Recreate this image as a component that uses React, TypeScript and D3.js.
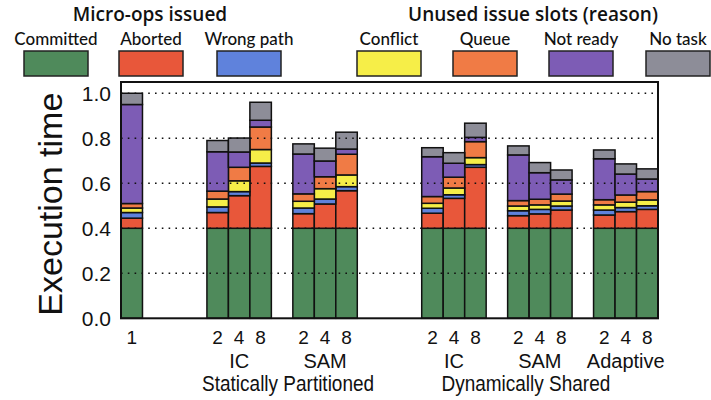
import React from "react";
import * as d3 from "d3";

// ---- data ----
const barKeys = [
  "1",
  "SP-IC-2", "SP-IC-4", "SP-IC-8",
  "SP-SAM-2", "SP-SAM-4", "SP-SAM-8",
  "DS-IC-2", "DS-IC-4", "DS-IC-8",
  "DS-SAM-2", "DS-SAM-4", "DS-SAM-8",
  "DS-AD-2", "DS-AD-4", "DS-AD-8",
];
const barTickLabels = ["1", "2", "4", "8", "2", "4", "8", "2", "4", "8", "2", "4", "8", "2", "4", "8"];
const committed = [0.40, 0.40, 0.40, 0.40, 0.40, 0.40, 0.40, 0.40, 0.40, 0.40, 0.40, 0.40, 0.40, 0.40, 0.40, 0.40];
const aborted = [0.045, 0.07, 0.145, 0.275, 0.065, 0.108, 0.167, 0.067, 0.133, 0.271, 0.056, 0.064, 0.081, 0.059, 0.074, 0.084];
const wrongPath = [0.025, 0.025, 0.018, 0.015, 0.025, 0.022, 0.018, 0.022, 0.016, 0.012, 0.022, 0.02, 0.018, 0.022, 0.018, 0.016];
const conflict = [0.02, 0.035, 0.048, 0.06, 0.03, 0.046, 0.052, 0.022, 0.03, 0.031, 0.021, 0.02, 0.022, 0.023, 0.024, 0.026];
const queue = [0.02, 0.035, 0.06, 0.10, 0.033, 0.053, 0.092, 0.03, 0.048, 0.071, 0.024, 0.025, 0.031, 0.023, 0.032, 0.037];
const notReady = [0.44, 0.175, 0.068, 0.03, 0.177, 0.07, 0.023, 0.177, 0.062, 0.019, 0.203, 0.118, 0.063, 0.182, 0.093, 0.056];
const noTask = [0.05, 0.05, 0.062, 0.08, 0.045, 0.057, 0.075, 0.04, 0.047, 0.063, 0.04, 0.045, 0.044, 0.039, 0.045, 0.045];

const seriesNames = ["Committed", "Aborted", "Wrong path", "Conflict", "Queue", "Not ready", "No task"];
const seriesValues = [committed, aborted, wrongPath, conflict, queue, notReady, noTask];
const seriesColors = ["#4f8a5b", "#e8573a", "#5f82dc", "#f6ee48", "#f07b45", "#7d5cb5", "#8d8d98"];

// slot layout: bars and gap slots along the x axis
const slotLayout = [
  "1", "_g1", "_g2", "_g3",
  "SP-IC-2", "SP-IC-4", "SP-IC-8", "_g4",
  "SP-SAM-2", "SP-SAM-4", "SP-SAM-8", "_g5", "_g6", "_g7",
  "DS-IC-2", "DS-IC-4", "DS-IC-8", "_g8",
  "DS-SAM-2", "DS-SAM-4", "DS-SAM-8", "_g9",
  "DS-AD-2", "DS-AD-4", "DS-AD-8",
];
const groupLabels = [
  { label: "IC", bars: ["SP-IC-2", "SP-IC-4", "SP-IC-8"] },
  { label: "SAM", bars: ["SP-SAM-2", "SP-SAM-4", "SP-SAM-8"] },
  { label: "IC", bars: ["DS-IC-2", "DS-IC-4", "DS-IC-8"] },
  { label: "SAM", bars: ["DS-SAM-2", "DS-SAM-4", "DS-SAM-8"] },
  { label: "Adaptive", bars: ["DS-AD-2", "DS-AD-4", "DS-AD-8"] },
];
const superLabels = [
  { label: "Statically Partitioned", bars: ["SP-IC-2", "SP-SAM-8"] },
  { label: "Dynamically Shared", bars: ["DS-IC-2", "DS-AD-8"] },
];
const yTicks = [0, 0.2, 0.4, 0.6, 0.8, 1.0];
const legendGroups = [
  { title: "Micro-ops issued", items: [0, 1, 2] },
  { title: "Unused issue slots (reason)", items: [3, 4, 5, 6] },
];

const W = 711;
const H = 400;
const plot = { left: 121, right: 658, top: 82, bottom: 318.3 };
const axisFont = "'Liberation Sans', Arial, Helvetica, sans-serif";
const legendFont = "Lato, 'Noto Sans', sans-serif";
const titleFont = "'Open Sans', Lato, sans-serif";

export default function App() {
  const x = d3.scaleBand<string>().domain(slotLayout).range([plot.left, plot.right]).padding(0);
  const y = d3.scaleLinear().domain([0, 1.05]).range([plot.bottom, plot.top]);

  const table = barKeys.map((k, i) => {
    const row: any = { key: k };
    seriesNames.forEach((s, j) => (row[s] = seriesValues[j][i]));
    return row;
  });
  const stacked = d3.stack<any>().keys(seriesNames)(table);

  const cx = (k: string) => (x(k) as number) + x.bandwidth() / 2;

  // legend positions
  const swatchCenters = [56, 151, 249, 389, 485, 581, 678];
  const legendTitleCenters = [150, 533];

  return (
    <svg width={W} height={H} style={{ position: "absolute", left: 0, top: 0, background: "#fff" }}>
      {/* legend */}
      {legendGroups.map((g, gi) => (
        <text
          key={"lt" + gi}
          x={legendTitleCenters[gi]}
          y={21}
          textAnchor="middle"
          fontFamily={titleFont}
          fontWeight={600}
          fontSize={19}
          fill="#111"
        >
          {g.title}
        </text>
      ))}
      {seriesNames.map((s, i) => (
        <g key={"lg" + i}>
          <text
            x={swatchCenters[i]}
            y={45}
            textAnchor="middle"
            fontFamily={legendFont}
            fontWeight={500}
            fontSize={17}
            fill="#111"
          >
            {s}
          </text>
          <rect
            x={swatchCenters[i] - 32}
            y={51}
            width={64}
            height={25}
            fill={seriesColors[i]}
            stroke="#222"
            strokeWidth={1.5}
          />
        </g>
      ))}

      {/* bars */}
      {stacked.map((layer, si) => (
        <g key={"s" + si}>
          {layer.map((d, bi) => (
            <rect
              key={bi}
              x={x(barKeys[bi]) as number}
              y={y(d[1])}
              width={x.bandwidth()}
              height={Math.max(0, y(d[0]) - y(d[1]))}
              fill={seriesColors[si]}
              stroke="#111"
              strokeWidth={1.5}
            />
          ))}
        </g>
      ))}

      {/* gridlines (drawn on top) */}
      {yTicks
        .filter((t) => t > 0)
        .map((t) => (
          <line
            key={"g" + t}
            x1={plot.left}
            x2={plot.right}
            y1={y(t)}
            y2={y(t)}
            stroke="#111"
            strokeWidth={1.6}
            strokeDasharray="1.6,5.2"
          />
        ))}

      {/* frame */}
      <rect
        x={plot.left}
        y={plot.top}
        width={plot.right - plot.left}
        height={plot.bottom - plot.top}
        fill="none"
        stroke="#111"
        strokeWidth={2}
      />

      {/* y tick labels */}
      {yTicks.map((t) => (
        <text
          key={"yt" + t}
          x={111}
          y={y(t) + 7.5}
          textAnchor="end"
          fontFamily={axisFont}
          fontSize={21}
          fill="#111"
        >
          {d3.format(".1f")(t)}
        </text>
      ))}
      <text
        transform={`translate(62,${(plot.top + plot.bottom) / 2 + 4}) rotate(-90)`}
        textAnchor="middle"
        fontFamily={axisFont}
        fontSize={34}
        fill="#111"
      >
        Execution time
      </text>

      {/* x labels */}
      {barKeys.map((k, i) => (
        <text
          key={"xt" + i}
          x={cx(k)}
          y={344}
          textAnchor="middle"
          fontFamily={axisFont}
          fontSize={19}
          fill="#111"
        >
          {barTickLabels[i]}
        </text>
      ))}
      {groupLabels.map((g, i) => (
        <text
          key={"gl" + i}
          x={(cx(g.bars[0]) + cx(g.bars[g.bars.length - 1])) / 2}
          y={368}
          textAnchor="middle"
          fontFamily={axisFont}
          fontSize={20}
          fill="#111"
        >
          {g.label}
        </text>
      ))}
      {superLabels.map((g, i) => (
        <text
          key={"sl" + i}
          transform={`translate(${(cx(g.bars[0]) + cx(g.bars[1])) / 2 + (i === 0 ? 6 : -14)},391) scale(1,1.12)`}
          textAnchor="middle"
          fontFamily={axisFont}
          fontSize={19}
          fill="#111"
        >
          {g.label}
        </text>
      ))}
    </svg>
  );
}
